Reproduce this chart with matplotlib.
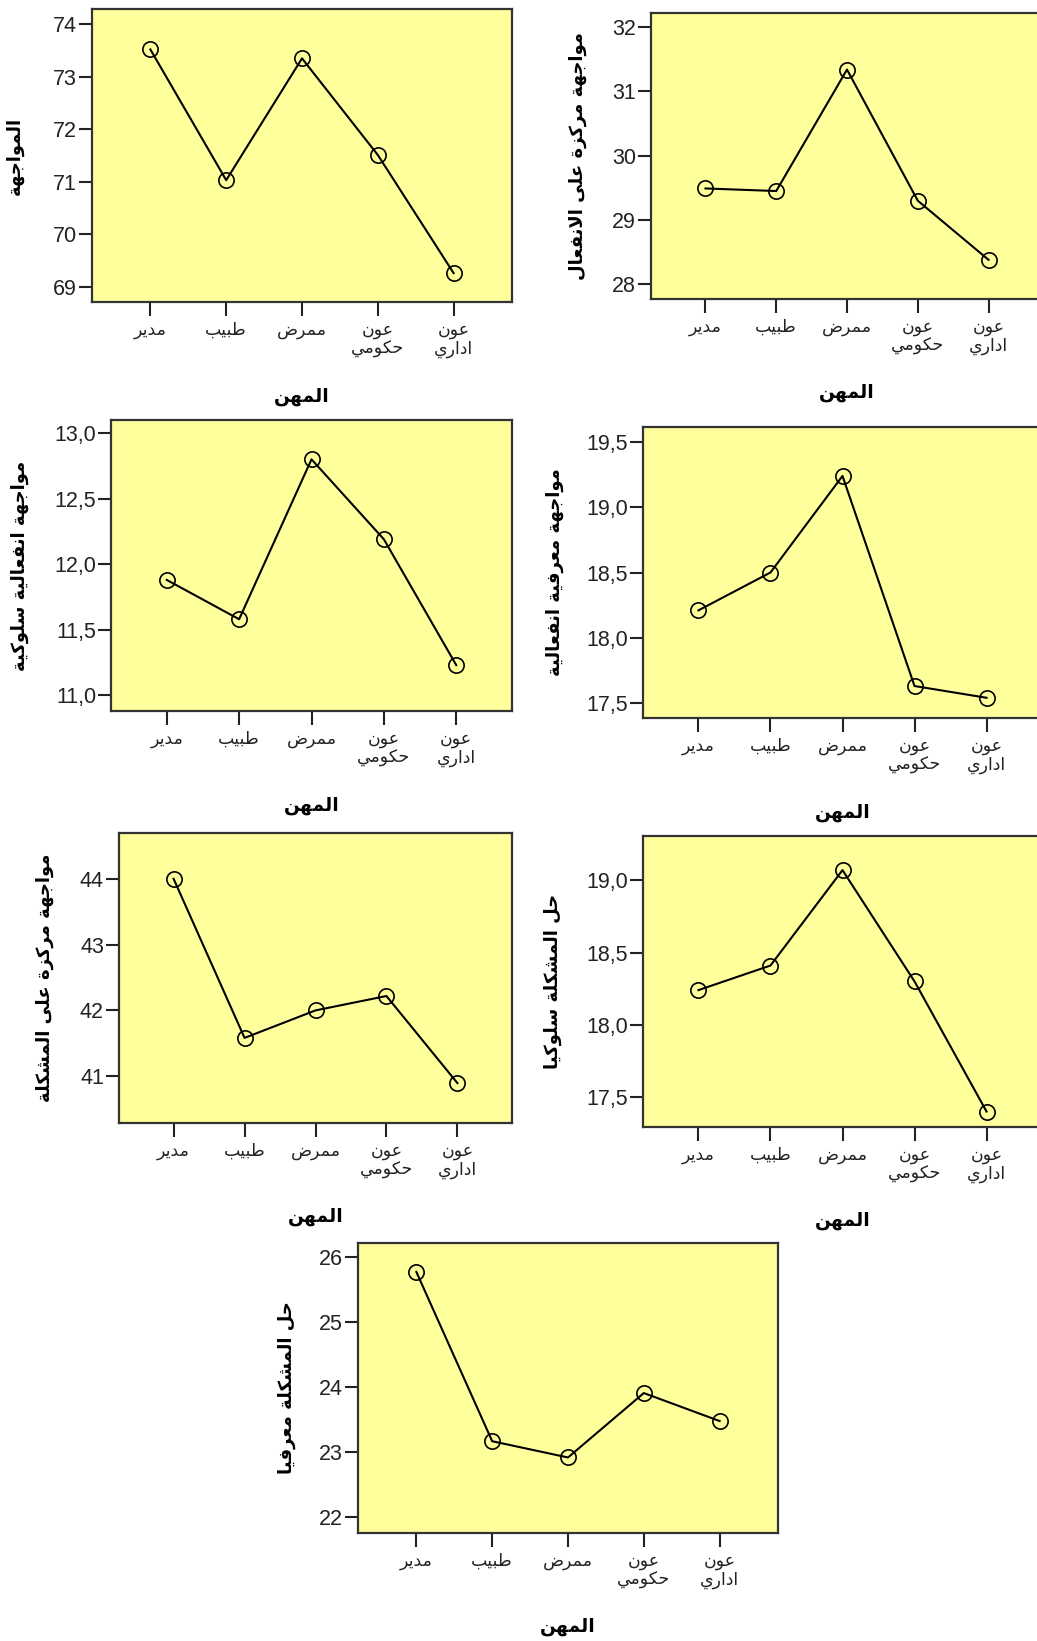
import matplotlib
matplotlib.use("Agg")
import matplotlib.pyplot as plt
from matplotlib.ticker import FixedLocator, FuncFormatter

W, H = 1037, 1641
DPI = 100

plt.rcParams['font.family'] = ['Liberation Sans', 'DejaVu Sans']

# ---- data ----
jobs = ["مدير", "طبيب", "ممرض", "عون\nحكومي", "عون\nاداري"]
x_title = "المهن"

coping = [73.52, 71.03, 73.35, 71.51, 69.26]
emotion_focused = [29.49, 29.45, 31.34, 29.30, 28.38]
emo_behavioural = [11.88, 11.58, 12.80, 12.19, 11.23]
cog_emotional = [18.21, 18.50, 19.24, 17.63, 17.54]
problem_focused = [44.01, 41.58, 42.00, 42.22, 40.89]
solve_behavioural = [18.24, 18.41, 19.07, 18.30, 17.40]
solve_cognitive = [25.77, 23.17, 22.92, 23.91, 23.48]

y_titles = ["المواجهة",
            "مواجهة مركزة على الانفعال",
            "مواجهة انفعالية سلوكية",
            "مواجهة معرفية انفعالية",
            "مواجهة مركزة على المشكلة",
            "حل المشكلة سلوكيا",
            "حل المشكلة معرفيا"]

y_ticks = [[69, 70, 71, 72, 73, 74],
           [28, 29, 30, 31, 32],
           [11.0, 11.5, 12.0, 12.5, 13.0],
           [17.5, 18.0, 18.5, 19.0, 19.5],
           [41, 42, 43, 44],
           [17.5, 18.0, 18.5, 19.0],
           [22, 23, 24, 25, 26]]
y_limits = [(68.71, 74.29), (27.77, 32.22), (10.88, 13.10), (17.385, 19.615),
            (40.28, 44.71), (17.293, 19.306), (21.76, 26.215)]
y_decimals = [0, 0, 1, 1, 0, 1, 0]

series = [coping, emotion_focused, emo_behavioural, cog_emotional,
          problem_focused, solve_behavioural, solve_cognitive]

# ---- layout in pixels: left, top, right, bottom; ylabel offset ----
boxes = [(92, 9, 512, 302), (651, 13, 1043, 299),
         (111, 420, 512, 711), (643, 427, 1042, 718),
         (119, 833, 512, 1123), (643, 836, 1042, 1127),
         (358, 1243, 778, 1533)]
ylab_off = [77, 73, 91, 88, 74, 90, 71]

# ---- minimal arabic shaping (matplotlib has no bidi/shaping) ----
FORMS = {
    'ا': ('\uFE8D', '\uFE8E', None, None),
    'ب': ('\uFE8F', '\uFE90', '\uFE91', '\uFE92'),
    'ة': ('\uFE93', '\uFE94', None, None),
    'ج': ('\uFE9D', '\uFE9E', '\uFE9F', '\uFEA0'),
    'ح': ('\uFEA1', '\uFEA2', '\uFEA3', '\uFEA4'),
    'د': ('\uFEA9', '\uFEAA', None, None),
    'ر': ('\uFEAD', '\uFEAE', None, None),
    'ز': ('\uFEAF', '\uFEB0', None, None),
    'س': ('\uFEB1', '\uFEB2', '\uFEB3', '\uFEB4'),
    'ش': ('\uFEB5', '\uFEB6', '\uFEB7', '\uFEB8'),
    'ض': ('\uFEBD', '\uFEBE', '\uFEBF', '\uFEC0'),
    'ط': ('\uFEC1', '\uFEC2', '\uFEC3', '\uFEC4'),
    'ع': ('\uFEC9', '\uFECA', '\uFECB', '\uFECC'),
    'ف': ('\uFED1', '\uFED2', '\uFED3', '\uFED4'),
    'ك': ('\uFED9', '\uFEDA', '\uFEDB', '\uFEDC'),
    'ل': ('\uFEDD', '\uFEDE', '\uFEDF', '\uFEE0'),
    'م': ('\uFEE1', '\uFEE2', '\uFEE3', '\uFEE4'),
    'ن': ('\uFEE5', '\uFEE6', '\uFEE7', '\uFEE8'),
    'ه': ('\uFEE9', '\uFEEA', '\uFEEB', '\uFEEC'),
    'و': ('\uFEED', '\uFEEE', None, None),
    'ى': ('\uFEEF', '\uFEF0', None, None),
    'ي': ('\uFEF1', '\uFEF2', '\uFEF3', '\uFEF4'),
}


def shape(text):
    lines = []
    for line in text.split("\n"):
        res = []
        prev_joins = False
        i = 0
        while i < len(line):
            c = line[i]
            if c not in FORMS:
                res.append(c)
                prev_joins = False
                i += 1
                continue
            if c == 'ل' and i + 1 < len(line) and line[i + 1] == 'ا':
                res.append('\uFEFC' if prev_joins else '\uFEFB')
                prev_joins = False
                i += 2
                continue
            iso, fin, ini, med = FORMS[c]
            nxt = line[i + 1] if i + 1 < len(line) else None
            next_joins = ini is not None and nxt in FORMS
            if prev_joins and next_joins:
                g = med
            elif prev_joins:
                g = fin
            elif next_joins:
                g = ini
            else:
                g = iso
            res.append(g)
            prev_joins = ini is not None
            i += 1
        lines.append("".join(reversed(res)))
    return "\n".join(lines)


fig = plt.figure(figsize=(W / DPI, H / DPI), dpi=DPI)

px = 72.0 / DPI
for k in range(7):
    l, t, r, b = boxes[k]
    ax = fig.add_axes([l / W, 1 - b / H, (r - l) / W, (b - t) / H])
    ax.set_facecolor('#ffff9c')
    ax.plot(range(5), series[k], color='black', lw=1.5, marker='o',
            ms=11, mfc='none', mec='black', mew=1.2)
    ax.set_xlim(-0.77, 4.77)
    ax.set_ylim(*y_limits[k])
    ax.yaxis.set_major_locator(FixedLocator(y_ticks[k]))
    dec = y_decimals[k]
    ax.yaxis.set_major_formatter(FuncFormatter(
        lambda v, p, d=dec: (f"{v:.{d}f}").replace('.', ',')))
    ax.set_xticks(range(5))
    ax.set_xticklabels([shape(j) for j in jobs], fontsize=12.5,
                       family=['DejaVu Sans'], linespacing=1.05)
    ax.tick_params(axis='y', length=13 * px, width=1.5, pad=2 * px,
                   labelsize=15.5, colors='#222222')
    ax.tick_params(axis='x', length=14 * px, width=1.5, pad=5 * px,
                   colors='#222222')
    for s in ax.spines.values():
        s.set_linewidth(1.6)
        s.set_color('#333333')
    ax.annotate(shape(x_title), xy=(0.5, 0), xycoords='axes fraction',
                xytext=(0, -94 * px), textcoords='offset points',
                ha='center', va='center', fontsize=13.5, fontweight='bold',
                family=['DejaVu Sans'])
    ax.annotate(shape(y_titles[k]), xy=(0, 0.5), xycoords='axes fraction',
                xytext=(-ylab_off[k] * px, 0), textcoords='offset points',
                ha='center', va='center', rotation=90, fontsize=13,
                fontweight='bold', family=['DejaVu Sans'])

fig.savefig("out.png", dpi=DPI)
